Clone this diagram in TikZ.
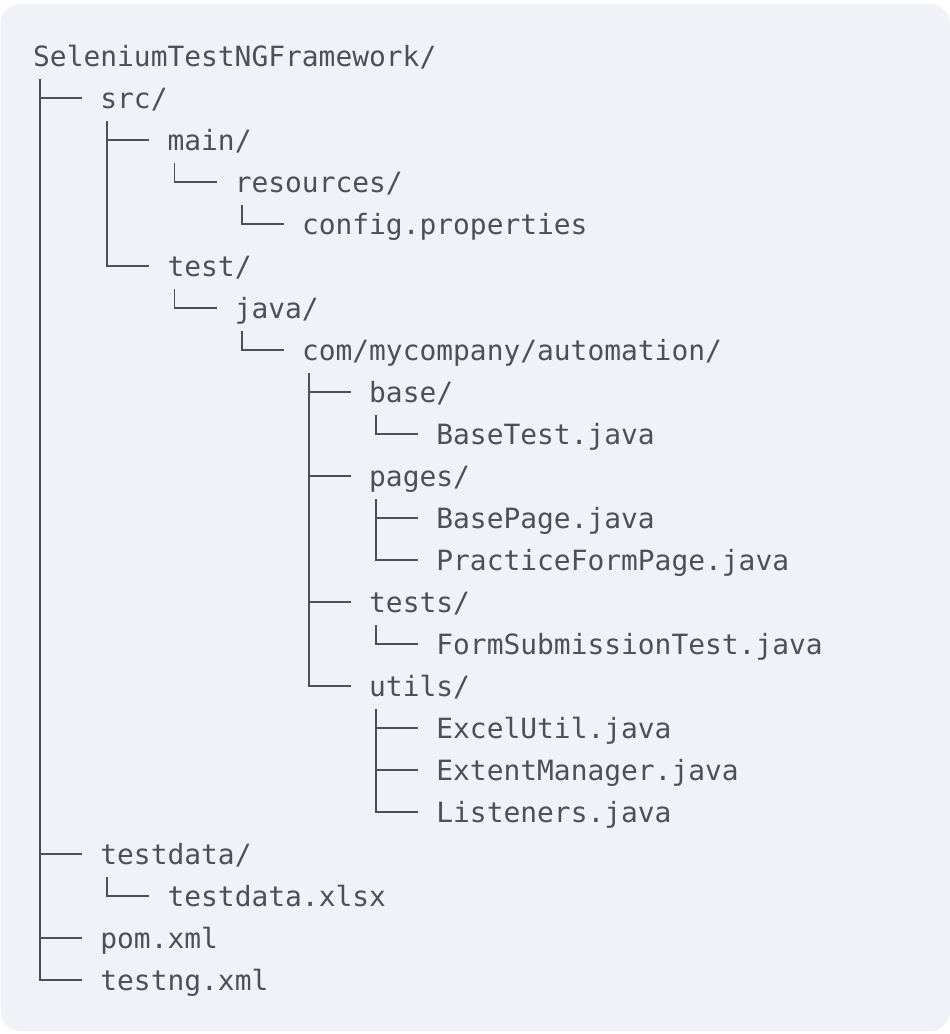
\documentclass[tikz,border=0pt]{standalone}
\usepackage{fontspec}
\setmonofont{DejaVu Sans Mono}
\usetikzlibrary{positioning}
\definecolor{inkgray}{HTML}{4B5059}
\definecolor{panelbg}{HTML}{F0F2F7}
\tikzset{
    entry/.style={
    anchor=base west,inner sep=0pt,text=inkgray,
    font=\ttfamily\fontsize{27.9pt}{42pt}\selectfont
    },
    branch/.style={
    draw=inkgray,line width=1.8pt
    },
}
\begin{document}
\begin{tikzpicture}[x=1pt,y=-1pt]
   \useasboundingbox (0,0) rectangle (950,1034);
   \fill[panelbg,rounded corners=20pt] (0.5,4) rectangle (950,1031);

   % tree entries, one row every 42pt, one level every 67.2pt
   \node[entry] (root)      at (33,66)    {SeleniumTestNGFramework/};
   \node[entry] (src)       at (100.2,108) {src/};
   \node[entry] (main)      at (167.4,150) {main/};
   \node[entry] (resources) at (234.6,192) {resources/};
   \node[entry] (config)    at (301.8,234) {config.properties};
   \node[entry] (test)      at (167.4,276) {test/};
   \node[entry] (java)      at (234.6,318) {java/};
   \node[entry] (com)       at (301.8,360) {com/mycompany/automation/};
   \node[entry] (base)      at (369,402)   {base/};
   \node[entry] (basetest)  at (436.2,444) {BaseTest.java};
   \node[entry] (pages)     at (369,486)   {pages/};
   \node[entry] (basepage)  at (436.2,528) {BasePage.java};
   \node[entry] (practice)  at (436.2,570) {PracticeFormPage.java};
   \node[entry] (tests)     at (369,612)   {tests/};
   \node[entry] (formsub)   at (436.2,654) {FormSubmissionTest.java};
   \node[entry] (utils)     at (369,696)   {utils/};
   \node[entry] (excel)     at (436.2,738) {ExcelUtil.java};
   \node[entry] (extent)    at (436.2,780) {ExtentManager.java};
   \node[entry] (listeners) at (436.2,822) {Listeners.java};
   \node[entry] (testdata)  at (100.2,864) {testdata/};
   \node[entry] (xlsx)      at (167.4,906) {testdata.xlsx};
   \node[entry] (pom)       at (100.2,948) {pom.xml};
   \node[entry] (testng)    at (100.2,990) {testng.xml};

   % vertical runs, parent down to its last child
   \foreach \p/\l in {root/testng,src/test,main/resources,resources/config,
                      test/java,java/com,com/utils,base/basetest,pages/practice,
                      tests/formsub,utils/listeners,testdata/xlsx}
     \draw[branch] ([xshift=7pt,yshift=-13pt]\p.base west)
        |- ([xshift=-18pt,yshift=10pt]\l.base west);

   % stubs of the other children
   \foreach \c in {src,main,base,pages,tests,basepage,excel,extent,testdata,pom}
     \draw[branch] ([xshift=-60.2pt,yshift=10pt]\c.base west)
        -- ([xshift=-18pt,yshift=10pt]\c.base west);
\end{tikzpicture}
\end{document}
